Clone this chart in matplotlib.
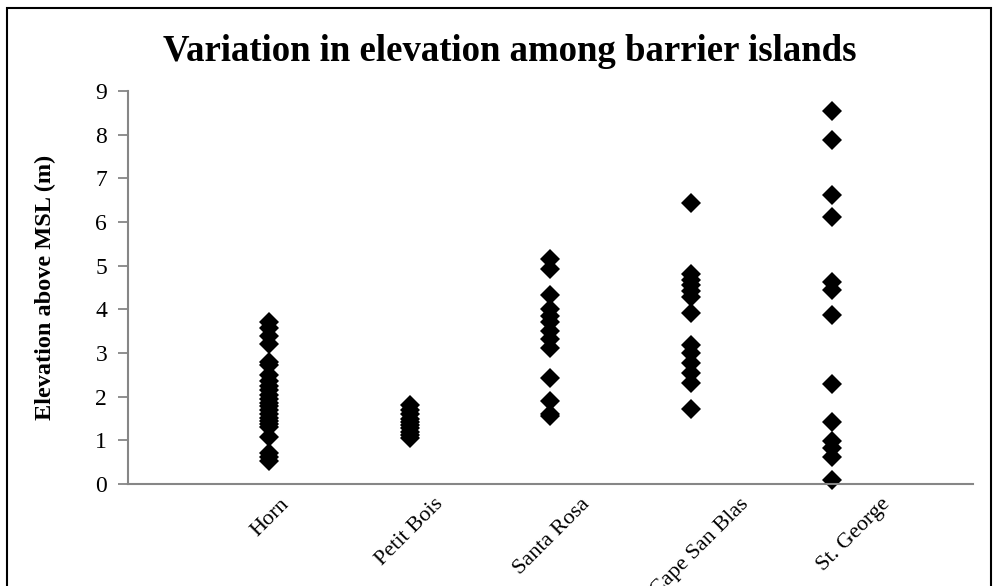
import matplotlib.pyplot as plt
from matplotlib.patches import Rectangle
from matplotlib.transforms import blended_transform_factory

# elevations above MSL (m)
islands = ["Horn", "Petit Bois", "Santa Rosa", "Cape San Blas", "St. George"]
horn = [3.72, 3.58, 3.40, 3.20, 2.80, 2.72, 2.50, 2.35, 2.25, 2.15, 2.05,
        1.95, 1.85, 1.78, 1.70, 1.60, 1.52, 1.45, 1.38, 1.30, 1.07, 0.72,
        0.62, 0.52]
petit_bois = [1.81, 1.70, 1.60, 1.50, 1.42, 1.35, 1.28, 1.20, 1.12, 1.05]
santa_rosa = [5.15, 4.92, 4.32, 4.00, 3.85, 3.70, 3.50, 3.32, 3.12, 2.43,
              1.90, 1.60, 1.55]
cape_san_blas = [6.44, 4.82, 4.68, 4.55, 4.42, 4.28, 3.91, 3.18, 3.00, 2.78,
                 2.55, 2.31, 1.71]
st_george = [8.55, 7.87, 6.63, 6.12, 4.62, 4.44, 3.88, 2.28, 1.42, 0.98,
             0.82, 0.62, 0.10]
y_ticks = list(range(0, 10))


def main():
    plt.rcParams['font.family'] = ['Liberation Serif', 'DejaVu Serif']
    fig = plt.figure(figsize=(9.99, 5.86), dpi=100)
    ax = fig.add_axes([0.1281, 0.174, 0.8459, 0.6707])

    series = [horn, petit_bois, santa_rosa, cape_san_blas, st_george]
    for i, vals in enumerate(series):
        ax.plot([i + 1] * len(vals), vals, linestyle='none', marker='D',
                markersize=10.5, color='black', markeredgewidth=0,
                clip_on=False)

    ax.set_xlim(0, 6)
    ax.set_ylim(0, 9)
    ax.set_yticks(y_ticks)
    ax.set_yticklabels([str(t) for t in y_ticks], fontsize=17)
    ax.set_xticks([])
    for side in ['top', 'right']:
        ax.spines[side].set_visible(False)
    for side in ['left', 'bottom']:
        ax.spines[side].set_color('#868686')
        ax.spines[side].set_linewidth(1.5)
    ax.tick_params(axis='y', direction='out', length=7, width=1.3,
                   color='#868686', pad=8)

    # category labels sit on their own, slightly offset from the markers
    label_x = [1.08, 2.17, 3.21, 4.34, 5.34]
    trans = blended_transform_factory(ax.transData, ax.transAxes)
    for x, name in zip(label_x, islands):
        ax.text(x, -0.027, name, transform=trans, rotation=45, ha='right',
                va='top', rotation_mode='anchor', fontsize=16)

    ax.set_ylabel("Elevation above MSL (m)", fontsize=17.5, fontweight='bold',
                  labelpad=28)
    fig.text(0.51, 0.912, "Variation in elevation among barrier islands",
             ha='center', va='center', fontsize=26.5, fontweight='bold')

    fig.patches.append(Rectangle((0.007, -0.05), 0.985, 1.037,
                                 transform=fig.transFigure, fill=False,
                                 edgecolor='black', linewidth=1.5))
    fig.savefig("out.png", dpi=100)


if __name__ == "__main__":
    main()
